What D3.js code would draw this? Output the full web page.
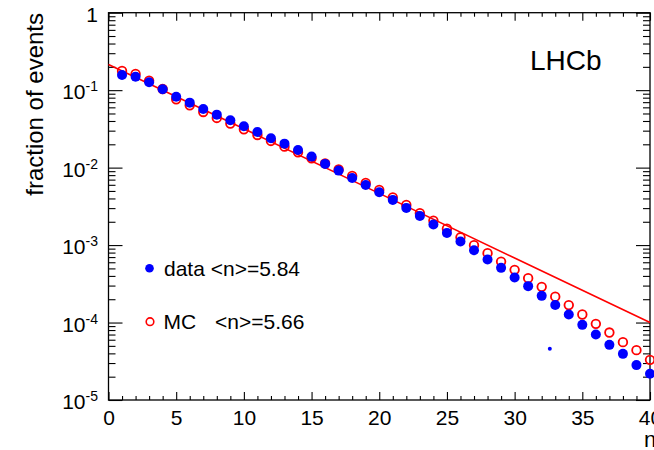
<!DOCTYPE html>
<html>
<head>
<meta charset="utf-8">
<script src="https://cdn.jsdelivr.net/npm/d3@7"></script>
<style>
  body { margin: 0; background: #fff; }
  text { font-family: "Liberation Sans", Arial, Helvetica, sans-serif; fill: #000; }
</style>
</head>
<body>
<div id="chart"></div>
<script>
// multiplicity n (bin centres)
const nValues = [1, 2, 3, 4, 5, 6, 7, 8, 9, 10, 11, 12, 13, 14, 15, 16, 17, 18, 19, 20,
                 21, 22, 23, 24, 25, 26, 27, 28, 29, 30, 31, 32, 33, 34, 35, 36, 37, 38, 39, 40];

// data, <n>=5.84 (filled blue)
const dataFrac = [0.157, 0.149, 0.1265, 0.1027, 0.0824, 0.069, 0.0572, 0.0483, 0.0409, 0.0342,
                  0.0289, 0.0239, 0.0204, 0.0169, 0.01387, 0.01117, 0.00915, 0.00736, 0.00598, 0.00482,
                  0.00383, 0.00302, 0.00238, 0.00184, 0.001436, 0.00111, 0.000859, 0.00065, 0.000508, 0.000381,
                  0.000295, 0.000221, 0.000168, 0.000127, 9.33e-5, 7.0e-5, 5.15e-5, 3.94e-5, 2.82e-5, 2.18e-5];

// MC, <n>=5.66 (open red)
const mcFrac = [0.177, 0.162, 0.1327, 0.1036, 0.0763, 0.0638, 0.0523, 0.0438, 0.037, 0.0313,
                0.0264, 0.0221, 0.01866, 0.0158, 0.0132, 0.01133, 0.00948, 0.00781, 0.00635, 0.00515,
                0.00412, 0.0033, 0.00258, 0.00207, 0.00163, 0.00126, 0.000997, 0.000786, 0.000612, 0.000479,
                0.000374, 0.000289, 0.000216, 0.000168, 0.000127, 9.62e-5, 7.43e-5, 5.58e-5, 4.4e-5, 3.3e-5];

// red line
const lineN = [0, 10, 20, 30, 40];
const lineFrac = [0.215, 0.0318, 0.00465, 0.00068, 0.0001];

// the small stray blue marker
const strayN = [32.6];
const strayFrac = [4.6e-5];

// axis ticks and labels
const xMajor = [0, 5, 10, 15, 20, 25, 30, 35, 40];
const xMinor = [1, 2, 3, 4, 6, 7, 8, 9, 11, 12, 13, 14, 16, 17, 18, 19, 21, 22, 23, 24,
                26, 27, 28, 29, 31, 32, 33, 34, 36, 37, 38, 39];
const yDecades = [1, 1e-1, 1e-2, 1e-3, 1e-4, 1e-5];
const yBase = ['1', '10', '10', '10', '10', '10'];
const yExp = ['', '-1', '-2', '-3', '-4', '-5'];
const yMult = [2, 3, 4, 5, 6, 7, 8, 9];

const legendLabels = ['data <n>=5.84', 'MC', '<n>=5.66'];

const W = 654, H = 450;
const fr = { left: 108.5, right: 650, top: 12.7, bottom: 400 };

const x = d3.scaleLinear().domain([0, 40]).range([fr.left, fr.right]);
const y = d3.scaleLog().domain([1e-5, 1]).range([fr.bottom, fr.top]);

const yMinor = [];
yDecades.slice(1).forEach(d => yMult.forEach(m => yMinor.push(d * m)));

const svg = d3.select('#chart').append('svg')
  .attr('width', W)
  .attr('height', H);

// ticks (inside the frame, mirrored on all four sides)
function noDomain(g) {
  g.select('.domain').remove();
  g.selectAll('line').attr('stroke', '#000').attr('stroke-width', 1.1);
}

svg.append('g').attr('transform', `translate(0,${fr.bottom})`)
  .call(d3.axisBottom(x).tickValues(xMinor).tickSize(-4).tickFormat(''))
  .call(noDomain);
const xAx = svg.append('g').attr('transform', `translate(0,${fr.bottom})`)
  .call(d3.axisBottom(x).tickValues(xMajor).tickSize(-8).tickPadding(10).tickFormat(d3.format('d')))
  .call(noDomain);
xAx.selectAll('text').attr('font-size', 21).attr('font-family', '"Liberation Sans", Arial, sans-serif');

svg.append('g').attr('transform', `translate(0,${fr.top})`)
  .call(d3.axisTop(x).tickValues(xMinor).tickSize(-4).tickFormat(''))
  .call(noDomain);
svg.append('g').attr('transform', `translate(0,${fr.top})`)
  .call(d3.axisTop(x).tickValues(xMajor).tickSize(-8).tickFormat(''))
  .call(noDomain);

svg.append('g').attr('transform', `translate(${fr.left},0)`)
  .call(d3.axisLeft(y).tickValues(yMinor).tickSize(-7).tickFormat(''))
  .call(noDomain);
svg.append('g').attr('transform', `translate(${fr.left},0)`)
  .call(d3.axisLeft(y).tickValues(yDecades).tickSize(-14).tickFormat(''))
  .call(noDomain);
svg.append('g').attr('transform', `translate(${fr.right},0)`)
  .call(d3.axisRight(y).tickValues(yMinor).tickSize(-7).tickFormat(''))
  .call(noDomain);
svg.append('g').attr('transform', `translate(${fr.right},0)`)
  .call(d3.axisRight(y).tickValues(yDecades).tickSize(-14).tickFormat(''))
  .call(noDomain);

// y labels 10^k
const yl = svg.append('g').selectAll('text')
  .data(yDecades)
  .enter().append('text')
  .attr('x', 98)
  .attr('y', d => y(d) + 9)
  .attr('text-anchor', 'end')
  .attr('font-size', 21);
yl.append('tspan').text((d, i) => yBase[i]);
yl.append('tspan')
  .attr('dy', -8)
  .attr('font-size', 14)
  .text((d, i) => yExp[i]);

// frame
svg.append('rect')
  .attr('x', fr.left).attr('y', fr.top)
  .attr('width', fr.right - fr.left).attr('height', fr.bottom - fr.top)
  .attr('fill', 'none').attr('stroke', '#000').attr('stroke-width', 1.3);

// fitted line
svg.append('path')
  .datum(lineN.map((n, i) => [n, lineFrac[i]]))
  .attr('fill', 'none')
  .attr('stroke', '#ff0000')
  .attr('stroke-width', 1.6)
  .attr('d', d3.line().x(d => x(d[0])).y(d => y(d[1])));

// MC points
svg.append('g').selectAll('circle')
  .data(nValues.map((n, i) => [n, mcFrac[i]]))
  .enter().append('circle')
  .attr('cx', d => x(d[0]))
  .attr('cy', d => y(d[1]))
  .attr('r', 4.3)
  .attr('fill', 'none')
  .attr('stroke', '#ff0000')
  .attr('stroke-width', 1.8);

// data points
svg.append('g').selectAll('circle')
  .data(nValues.map((n, i) => [n, dataFrac[i]]))
  .enter().append('circle')
  .attr('cx', d => x(d[0]))
  .attr('cy', d => y(d[1]))
  .attr('r', 5)
  .attr('fill', '#0000ff');

svg.append('g').selectAll('circle')
  .data(strayN.map((n, i) => [n, strayFrac[i]]))
  .enter().append('circle')
  .attr('cx', d => x(d[0]))
  .attr('cy', d => y(d[1]))
  .attr('r', 2)
  .attr('fill', '#0000ff');

// legend
svg.append('circle').attr('cx', 149.5).attr('cy', 268.3).attr('r', 4.3).attr('fill', '#0000ff');
svg.append('text').attr('x', 164).attr('y', 275.5).attr('font-size', 21).text(legendLabels[0]);
svg.append('circle').attr('cx', 150).attr('cy', 321.7).attr('r', 3.8)
  .attr('fill', 'none').attr('stroke', '#ff0000').attr('stroke-width', 1.6);
svg.append('text').attr('x', 163.5).attr('y', 329).attr('font-size', 21).text(legendLabels[1]);
svg.append('text').attr('x', 215).attr('y', 329).attr('font-size', 21).text(legendLabels[2]);

// titles
svg.append('text')
  .attr('transform', 'translate(43,13) rotate(-90)')
  .attr('text-anchor', 'end')
  .attr('font-size', 24)
  .text('fraction of events');

svg.append('text')
  .attr('x', 644).attr('y', 447)
  .attr('font-size', 22)
  .text('n');

svg.append('text')
  .attr('x', 530).attr('y', 70)
  .attr('font-size', 28)
  .text('LHCb');
</script>
</body>
</html>
